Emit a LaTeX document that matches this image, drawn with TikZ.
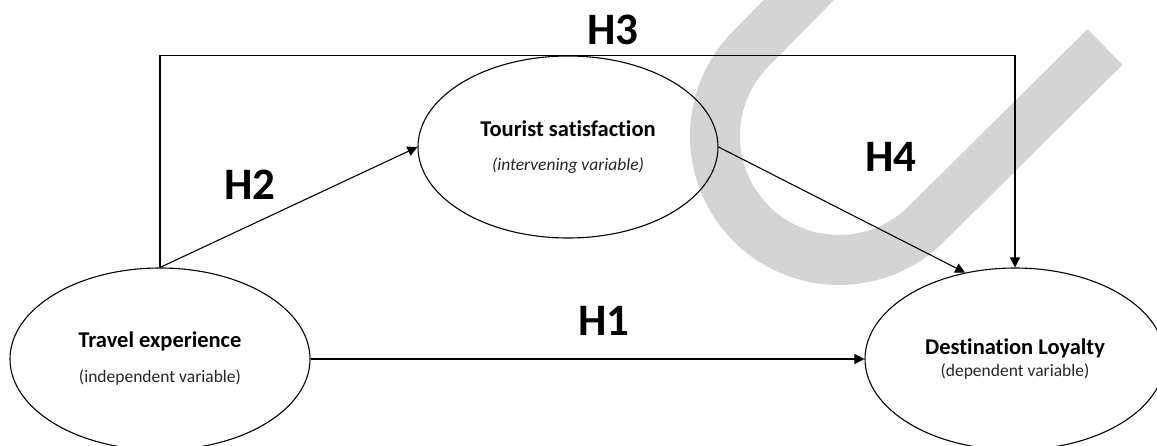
\documentclass[tikz,border=0pt]{standalone}
\usepackage{fontspec}
\setmainfont{Carlito}[Ligatures=NoCommon]
\usetikzlibrary{shapes.geometric,positioning,arrows.meta}
\definecolor{wmgray}{RGB}{212,212,212}
\newcommand{\vname}[1]{{\bfseries #1}}
\newcommand{\vrole}[1]{{\fontsize{17.5}{22}\selectfont\color{black!85}#1}}
\begin{document}
\begin{tikzpicture}[x=1pt, y=-1pt,
    main/.style = {draw, ellipse, line width=1.1pt, minimum width=300pt, minimum height=182pt, inner sep=0pt, align=center, font=\fontsize{22.5}{22}\selectfont},
    hyp/.style = {font=\fontsize{45}{45}\selectfont\bfseries},
    arr/.style = {line width=1.1pt, -{Triangle[length=10pt,width=10pt]}}]
    \useasboundingbox (0,0) rectangle (1157,445);
    \draw[wmgray, line width=50pt] (850,-52) -- (751.3,48.3) arc[start angle=225, end angle=45, radius=124] -- (1105,47);
    \node[main] (1) at (160,359) {\vname{Travel experience}\\[13pt]\vrole{(independent variable)}};
    \node[main] (3) [on grid, right=855pt of 1] {\vname{Destination Loyalty}\\\vrole{(dependent variable)}};
    \node[main] (2) [on grid, above right=212pt and 408pt of 1] {\vname{Tourist satisfaction}\\[12pt]\vrole{\itshape (intervening variable)}};
    \node[hyp] (h1) at (604,321) {H1};
    \node[hyp] (h2) at (250,185) {H2};
    \node[hyp] (h3) at (613,30) {H3};
    \node[hyp] (h4) at (891,157) {H4};
    \draw[arr] (1) -- (3);
    \draw[arr] (1.north) -- (2.west);
    \draw[arr] (1.north) -- (1.north |- 2.north) -- (3.north |- 2.north) -- (3.north);
    \draw[arr] (2.east) -- (3.120);
\end{tikzpicture}
\end{document}
